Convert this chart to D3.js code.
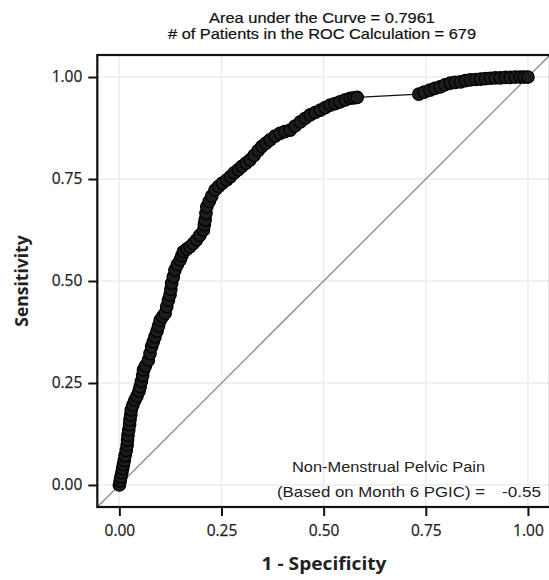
<!DOCTYPE html>
<html>
<head>
<meta charset="utf-8">
<script src="https://cdn.jsdelivr.net/npm/d3@7"></script>
<style>
  html, body { margin: 0; padding: 0; background: #fff; }
  svg { display: block; }
</style>
</head>
<body>
<svg id="chart" width="549" height="580"></svg>
<script>
// ---- Data ----
const titleLines = ["Area under the Curve = 0.7961", "# of Patients in the ROC Calculation = 679"];
const xLabel = "1 - Specificity";
const yLabel = "Sensitivity";
const tickValues = [0, 0.25, 0.5, 0.75, 1];
const annotationLines = ["Non-Menstrual Pelvic Pain", "(Based on Month 6 PGIC) ="];
const annotationValue = "-0.55";

// 1 - specificity (false positive rate)
const fpr = [
  0.000,0.002,0.004,0.006,0.008,0.010,0.012,0.014,0.017,0.019,
  0.020,0.021,0.023,0.025,0.026,0.028,0.029,0.033,0.038,0.043,
  0.048,0.051,0.054,0.057,0.059,0.064,0.071,0.075,0.079,0.083,
  0.087,0.092,0.096,0.100,0.106,0.112,0.116,0.120,0.124,0.126,
  0.128,0.132,0.136,0.142,0.149,0.153,0.157,0.165,0.173,0.181,
  0.189,0.197,0.206,0.208,0.210,0.212,0.214,0.220,0.226,0.234,
  0.243,0.252,0.263,0.272,0.281,0.291,0.300,0.310,0.320,0.330,
  0.340,0.349,0.359,0.369,0.381,0.393,0.405,0.418,0.430,0.443,
  0.455,0.467,0.479,0.492,0.504,0.516,0.528,0.540,0.553,0.565,
  0.574,0.582,0.733,0.746,0.760,0.772,0.785,0.797,0.810,0.822,
  0.835,0.847,0.859,0.872,0.884,0.896,0.908,0.920,0.932,0.945,
  0.957,0.969,0.981,0.991,1.000
];
// sensitivity (true positive rate)
const tpr = [
  0.000,0.010,0.020,0.030,0.040,0.050,0.060,0.072,0.085,0.098,
  0.110,0.122,0.135,0.148,0.160,0.172,0.184,0.196,0.208,0.218,
  0.230,0.241,0.254,0.268,0.282,0.292,0.306,0.322,0.339,0.351,
  0.363,0.377,0.390,0.404,0.413,0.421,0.437,0.453,0.466,0.480,
  0.494,0.510,0.527,0.540,0.552,0.562,0.572,0.578,0.584,0.592,
  0.601,0.612,0.625,0.638,0.650,0.666,0.682,0.695,0.708,0.723,
  0.732,0.740,0.748,0.756,0.765,0.773,0.781,0.789,0.797,0.808,
  0.820,0.830,0.838,0.846,0.855,0.862,0.866,0.870,0.880,0.890,
  0.899,0.907,0.913,0.919,0.925,0.931,0.935,0.939,0.944,0.948,
  0.949,0.950,0.958,0.963,0.968,0.972,0.976,0.981,0.985,0.987,
  0.988,0.991,0.993,0.994,0.995,0.996,0.997,0.998,0.998,0.999,
  0.999,1.000,1.000,1.000,1.000
];

const points = fpr.map((x, i) => ({x, y: tpr[i]}));

// ---- Layout ----
const svg = d3.select("#chart");
const plot = {left: 97.3, right: 550, top: 55, bottom: 507};
const dom = [-0.054, 1.054];
const x = d3.scaleLinear().domain(dom).range([plot.left, plot.right]);
const y = d3.scaleLinear().domain(dom).range([plot.bottom, plot.top]);

const txtFont = "'Liberation Sans', Arial, sans-serif";
const axFont = "'Open Sans', 'Noto Sans', sans-serif";

// Grid
const grid = svg.append("g");
grid.selectAll("line.vx").data(tickValues).join("line")
  .attr("x1", d => x(d)).attr("x2", d => x(d))
  .attr("y1", plot.top).attr("y2", plot.bottom)
  .attr("stroke", "#ececf2").attr("stroke-width", 1.5);
grid.selectAll("line.hy").data(tickValues).join("line")
  .attr("y1", d => y(d)).attr("y2", d => y(d))
  .attr("x1", plot.left).attr("x2", plot.right)
  .attr("stroke", "#ececf2").attr("stroke-width", 1.5);

// Diagonal reference
svg.append("line")
  .attr("x1", x(dom[0])).attr("y1", y(dom[0]))
  .attr("x2", x(dom[1])).attr("y2", y(dom[1]))
  .attr("stroke", "#8a8a8a").attr("stroke-width", 1.3);

// Connecting line
const line = d3.line().x(d => x(d.x)).y(d => y(d.y));
svg.append("path").datum(points)
  .attr("d", line).attr("fill", "none")
  .attr("stroke", "#111").attr("stroke-width", 1.2);

// Markers
svg.append("g").selectAll("circle").data(points).join("circle")
  .attr("cx", d => x(d.x)).attr("cy", d => y(d.y))
  .attr("r", 6.2)
  .attr("fill", "#1c1c1c").attr("stroke", "#000").attr("stroke-width", 1.3);

// Frame
svg.append("rect")
  .attr("x", plot.left).attr("y", plot.top)
  .attr("width", plot.right - plot.left).attr("height", plot.bottom - plot.top)
  .attr("fill", "none").attr("stroke", "#111").attr("stroke-width", 2.2);

// Axes
const xAxis = d3.axisBottom(x).tickValues(tickValues).tickFormat(d3.format(".2f")).tickSize(9).tickPadding(9);
const yAxis = d3.axisLeft(y).tickValues(tickValues).tickFormat(d3.format(".2f")).tickSize(9).tickPadding(6);

const gx = svg.append("g").attr("transform", `translate(0,${plot.bottom})`).call(xAxis);
const gy = svg.append("g").attr("transform", `translate(${plot.left},0)`).call(yAxis);
[gx, gy].forEach(g => {
  g.select(".domain").remove();
  g.selectAll(".tick line").attr("stroke", "#111").attr("stroke-width", 2);
  g.selectAll(".tick text").attr("font-family", axFont).attr("font-size", 15.5)
    .attr("fill", "#222").attr("stroke", "#222").attr("stroke-width", 0.25);
});

// Axis titles
svg.append("text")
  .attr("x", 324).attr("y", 569.5)
  .attr("text-anchor", "middle")
  .attr("font-family", axFont).attr("font-weight", "bold").attr("font-size", 18)
  .attr("textLength", 125).attr("lengthAdjust", "spacingAndGlyphs")
  .attr("fill", "#222")
  .text(xLabel);
svg.append("text")
  .attr("transform", "translate(28,281) rotate(-90)")
  .attr("text-anchor", "middle")
  .attr("font-family", axFont).attr("font-weight", "bold").attr("font-size", 17.5).attr("fill", "#222")
  .text(yLabel);

// Title
const titleLen = [226, 308];
svg.selectAll("text.title").data(titleLines).join("text")
  .attr("class", "title")
  .attr("x", 322).attr("y", (d, i) => 23 + i * 15.5)
  .attr("text-anchor", "middle")
  .attr("font-family", txtFont).attr("font-size", 14.5).attr("fill", "#111")
  .attr("stroke", "#111").attr("stroke-width", 0.2)
  .attr("textLength", (d, i) => titleLen[i]).attr("lengthAdjust", "spacingAndGlyphs")
  .text(d => d);

// Annotation
const annLen = [193, 208];
svg.selectAll("text.ann").data(annotationLines).join("text")
  .attr("class", "ann")
  .attr("x", 485).attr("y", (d, i) => 472 + i * 25)
  .attr("text-anchor", "end")
  .attr("font-family", txtFont).attr("font-size", 14.5).attr("fill", "#222")
  .attr("textLength", (d, i) => annLen[i]).attr("lengthAdjust", "spacingAndGlyphs")
  .text(d => d);
svg.append("text")
  .attr("x", 541).attr("y", 497)
  .attr("text-anchor", "end")
  .attr("font-family", txtFont).attr("font-size", 14.5).attr("fill", "#222")
  .attr("textLength", 39).attr("lengthAdjust", "spacingAndGlyphs")
  .text(annotationValue);
</script>
</body>
</html>
